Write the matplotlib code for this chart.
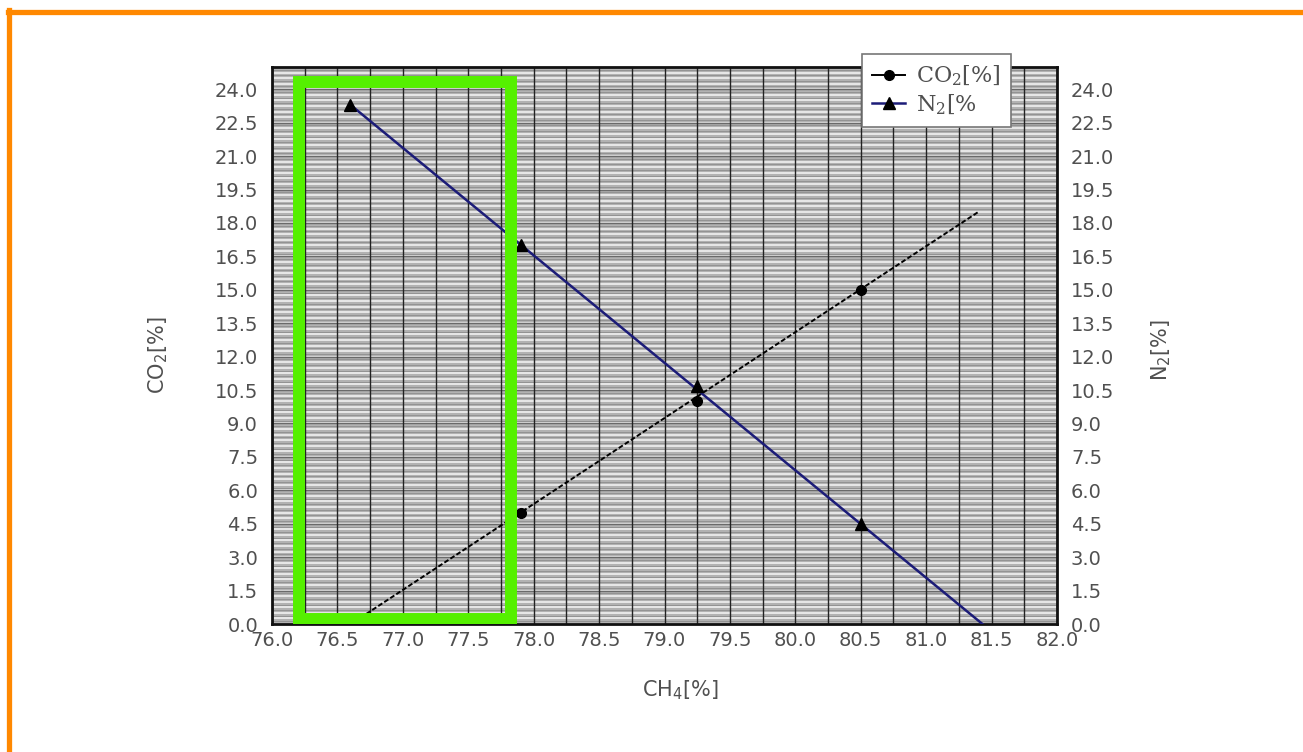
import numpy as np
import matplotlib
matplotlib.use("Agg")
import matplotlib.pyplot as plt
from matplotlib.patches import Rectangle
from matplotlib.lines import Line2D

plt.rcParams["font.family"] = ["DejaVu Sans"]
plt.rcParams["mathtext.default"] = "regular"

# Measured gas composition points
ch4_pts = [77.9, 79.25, 80.5]
co2_pts = [5.0, 10.0, 15.0]
ch4_n2_pts = [76.6, 77.9, 79.25, 80.5]
n2_pts = [23.3, 17.0, 10.7, 4.5]

# Trend lines through the measurements
co2_trend_x = [76.72, 81.4]
co2_trend_y = [0.45, 18.5]
n2_trend_x = [76.6, 81.43]
n2_trend_y = [23.3, 0.0]

# Highlighted CH4 window
window_x = [76.21, 77.83]
window_y = [0.22, 24.33]

x_ticks = [76.0, 76.5, 77.0, 77.5, 78.0, 78.5, 79.0, 79.5, 80.0, 80.5, 81.0, 81.5, 82.0]
y_ticks = [0.0, 1.5, 3.0, 4.5, 6.0, 7.5, 9.0, 10.5, 12.0, 13.5, 15.0, 16.5,
           18.0, 19.5, 21.0, 22.5, 24.0]

TXT = "#505050"
W, H = 1303, 752
fig = plt.figure(figsize=(W / 100, H / 100), dpi=100)
fig.patch.set_facecolor("white")

# orange page frame
fig.add_artist(Line2D([8 / W, 1.0], [1 - 11.5 / H, 1 - 11.5 / H],
                      transform=fig.transFigure, color="#ff8800", lw=3.8))
fig.add_artist(Line2D([8.5 / W, 8.5 / W], [0.0, 1 - 9.5 / H],
                      transform=fig.transFigure, color="#ff8800", lw=3.8))

ax = fig.add_axes([272 / W, 1 - 624 / H, 785 / W, 557 / H])
ax.set_xlim(76.0, 82.0)
ax.set_ylim(0.0, 25.0)
ax.set_facecolor("#b2b2b2")

# fine horizontal striping of the plotting paper
fine = np.arange(0.0, 25.0, 0.125)
for i, yv in enumerate(fine):
    if i % 2 == 0:
        ax.axhline(yv, color="#f6f6f6", lw=1.1, zorder=0.5)
    else:
        ax.axhline(yv, color="#939393", lw=0.7, zorder=0.5)
for yv in np.arange(0.0, 25.0, 1.5):
    ax.axhline(yv, color="#6a6a6a", lw=1.0, zorder=0.6)
# vertical grid every 0.25
for xv in np.arange(76.0, 82.001, 0.25):
    ax.axvline(xv, color="#222222", lw=1.0, zorder=0.7)

ax.plot(co2_trend_x, co2_trend_y, color="black", lw=1.4,
        linestyle=(0, (2.5, 1.2)), zorder=3)
ax.plot(ch4_pts, co2_pts, linestyle="none", marker="o", ms=7,
        color="black", zorder=4)
ax.plot(n2_trend_x, n2_trend_y, color="#1c1c78", lw=1.8, zorder=3)
ax.plot(ch4_n2_pts, n2_pts, linestyle="none", marker="^", ms=8,
        color="black", zorder=4)

ax.add_patch(Rectangle((window_x[0], window_y[0]), window_x[1] - window_x[0],
                       window_y[1] - window_y[0], fill=False,
                       edgecolor="#55f000", lw=8.6, zorder=5))

for s in ax.spines.values():
    s.set_linewidth(2.0)
    s.set_color("#111111")

ax.set_xticks(x_ticks)
ax.set_xticklabels([f"{v:.1f}" for v in x_ticks])
ax.set_yticks(y_ticks)
ax.set_yticklabels([f"{v:.1f}" for v in y_ticks])
ax.tick_params(length=0, labelsize=14, colors=TXT)
ax.tick_params(axis="x", pad=5)
ax.tick_params(axis="y", pad=10)

ax.set_xlabel("CH$_4$[%]", fontsize=15, color=TXT)
ax.xaxis.set_label_coords(0.52, -0.098)
ax.set_ylabel("CO$_2$[%]", fontsize=15, color=TXT)
ax.yaxis.set_label_coords(-0.130, 0.483)

ax2 = ax.twinx()
ax2.set_ylim(0.0, 25.0)
ax2.set_yticks(y_ticks)
ax2.set_yticklabels([f"{v:.1f}" for v in y_ticks])
ax2.tick_params(length=0, labelsize=14, colors=TXT, pad=10)
ax2.set_ylabel("N$_2$[%]", fontsize=15, color=TXT, rotation=90)
ax2.yaxis.set_label_coords(1.118, 0.492)
for s in ax2.spines.values():
    s.set_visible(False)

handles = [
    Line2D([], [], color="black", lw=1.4, marker="o", ms=7),
    Line2D([], [], color="#1c1c78", lw=1.8, marker="^", ms=8,
           markerfacecolor="black", markeredgecolor="black"),
]
leg = fig.legend(handles, ["CO$_2$[%]", "N$_2$[%"], loc="upper left",
                 bbox_to_anchor=(862 / W, 1 - 54 / H),
                 bbox_transform=fig.transFigure, borderaxespad=0.0,
                 frameon=True, fancybox=False,
                 framealpha=1.0, edgecolor="#777777", handlelength=1.5,
                 handletextpad=0.5, borderpad=0.45, labelspacing=0.2,
                 prop={"family": "DejaVu Serif", "size": 16})
for t in leg.get_texts():
    t.set_color(TXT)
leg.get_frame().set_linewidth(1.2)
leg.set_zorder(10)

fig.savefig("out.png", dpi=100)
